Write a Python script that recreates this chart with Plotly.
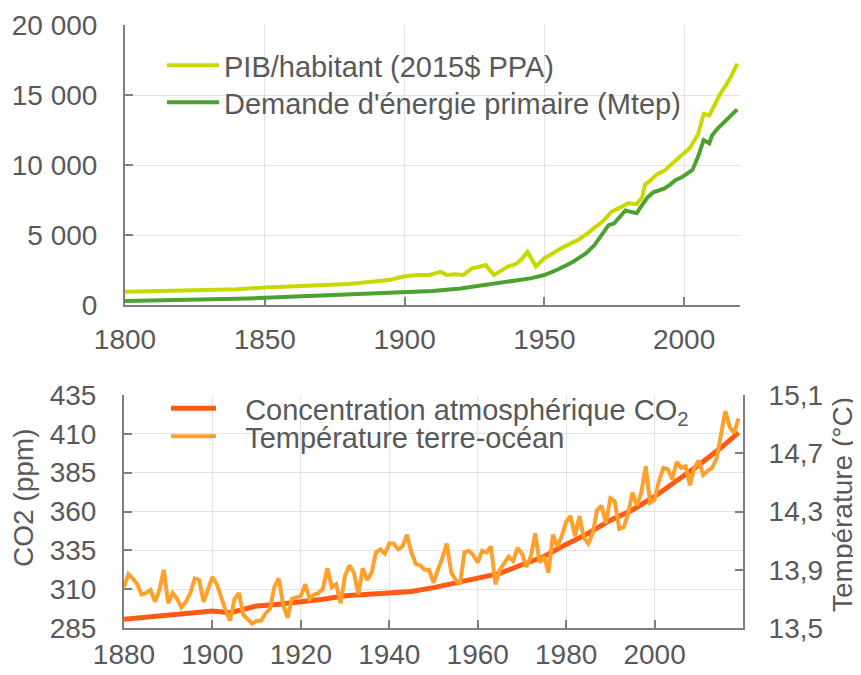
import plotly.graph_objects as go

# --- top panel: GDP per capita and primary energy demand ---
pib_years = [1800, 1810, 1820, 1830, 1840, 1850, 1860, 1870, 1880, 1890, 1895,
             1900, 1905, 1909, 1913, 1915, 1918, 1921, 1924, 1927, 1929, 1932,
             1935, 1937, 1940, 1942, 1944, 1947, 1950, 1953, 1956, 1959, 1962,
             1965, 1968, 1971, 1974, 1977, 1980, 1983, 1985, 1986, 1988, 1990,
             1993, 1996, 1999, 2002, 2005, 2007, 2009, 2011, 2013, 2015, 2017, 2019]
pib_values = [950, 980, 1010, 1060, 1120, 1250, 1320, 1400, 1500, 1700, 1800,
              2050, 2150, 2150, 2380, 2150, 2200, 2150, 2600, 2750, 2850, 2150,
              2500, 2750, 2950, 3300, 3800, 2750, 3330, 3700, 4050, 4350, 4650,
              5050, 5550, 6000, 6650, 6950, 7260, 7200, 7700, 8600, 8900, 9300,
              9600, 10150, 10700, 11200, 12200, 13650, 13550, 14400, 15100, 15700, 16400, 17250]

energy_years = [1800, 1810, 1820, 1830, 1840, 1850, 1860, 1870, 1880, 1890, 1900,
                1910, 1920, 1930, 1940, 1945, 1950, 1955, 1960, 1965, 1968, 1971,
                1973, 1975, 1977, 1979, 1981, 1983, 1985, 1987, 1989, 1991, 1993,
                1995, 1997, 1999, 2001, 2003, 2005, 2007, 2009, 2010, 2012, 2014,
                2016, 2018, 2019]
energy_values = [290, 310, 340, 380, 440, 510, 580, 650, 740, 830, 920,
                 1000, 1180, 1450, 1730, 1900, 2140, 2550, 3050, 3700, 4300, 5100,
                 5700, 5830, 6300, 6750, 6650, 6550, 7150, 7700, 8050, 8200, 8330,
                 8600, 8930, 9100, 9400, 9650, 10600, 11780, 11550, 12100, 12600, 13000,
                 13330, 13700, 13970]

# --- bottom panel: CO2 concentration (ppm) and land-ocean temperature (°C) ---
co2_years = [1880, 1885, 1890, 1895, 1900, 1904, 1910, 1915, 1920, 1925, 1930,
             1935, 1940, 1945, 1950, 1955, 1960, 1965, 1970, 1975, 1980, 1985,
             1990, 1995, 2000, 2005, 2010, 2015, 2019]
co2_values = [290.7, 292.0, 293.4, 294.6, 296.0, 294.8, 299.2, 300.3, 301.5, 303.5, 305.8,
              306.8, 307.3, 308.5, 311.0, 313.8, 317.0, 320.2, 325.7, 331.0, 338.8, 346.0,
              354.4, 361.0, 369.7, 379.8, 389.9, 401.0, 410.8]

temp_years = list(range(1880, 2020))
temp_values = [
    13.78, 13.87, 13.84, 13.80, 13.73, 13.74, 13.76, 13.68, 13.76, 13.90,  # 1880s
    13.67, 13.74, 13.70, 13.64, 13.68, 13.74, 13.84, 13.83, 13.68, 13.77,  # 1890s
    13.85, 13.80, 13.70, 13.62, 13.55, 13.70, 13.74, 13.59, 13.56, 13.53,  # 1900s
    13.55, 13.55, 13.60, 13.63, 13.78, 13.84, 13.66, 13.57, 13.70, 13.71,  # 1910s
    13.72, 13.80, 13.70, 13.73, 13.74, 13.77, 13.91, 13.78, 13.80, 13.67,  # 1920s
    13.86, 13.93, 13.88, 13.73, 13.91, 13.83, 13.88, 14.02, 14.04, 14.01,  # 1930s
    14.08, 14.08, 14.04, 14.06, 14.14, 14.02, 13.94, 13.93, 13.90, 13.90,  # 1940s
    13.81, 13.90, 13.98, 14.08, 13.88, 13.83, 13.80, 14.02, 14.03, 14.00,  # 1950s
    13.95, 14.03, 14.02, 14.06, 13.80, 13.90, 13.95, 13.99, 13.96, 14.05,  # 1960s
    14.01, 13.92, 13.99, 14.15, 13.95, 13.99, 13.88, 14.14, 14.06, 14.13,  # 1970s
    14.23, 14.27, 14.13, 14.27, 14.12, 14.08, 14.15, 14.31, 14.34, 14.22,  # 1980s
    14.39, 14.37, 14.18, 14.19, 14.28, 14.43, 14.34, 14.43, 14.61, 14.36,  # 1990s
    14.38, 14.51, 14.60, 14.59, 14.52, 14.64, 14.60, 14.61, 14.48, 14.60,  # 2000s
    14.65, 14.55, 14.58, 14.60, 14.66, 14.82, 14.99, 14.88, 14.84, 14.94,  # 2010s
]

top_x_ticks = [1800, 1850, 1900, 1950, 2000]
top_y_ticks = [0, 5000, 10000, 15000, 20000]
bot_x_ticks = [1880, 1900, 1920, 1940, 1960, 1980, 2000]
co2_ticks = [285, 310, 335, 360, 385, 410, 435]
temp_ticks = [13.5, 13.9, 14.3, 14.7, 15.1]

TEXT = "#595959"
AXIS = "#7f7f7f"
GRID = "#e3e3e3"
FONT = "Liberation Sans, Arial, sans-serif"
NBSP = "\u00a0"

# the page body has an 8px default margin, so the figure is 8px smaller
OFF = 8
W, H = 861 - OFF, 675 - OFF


def px_x(p):
    return (p - OFF) / W


def px_y(p):
    return 1 - (p - OFF) / H


fig = go.Figure()

fig.add_trace(go.Scatter(x=pib_years, y=pib_values, mode="lines",
                         line=dict(color="#c8d900", width=4),
                         name="PIB/habitant (2015$ PPA)", xaxis="x", yaxis="y",
                         legend="legend"))
fig.add_trace(go.Scatter(x=energy_years, y=energy_values, mode="lines",
                         line=dict(color="#4ca22e", width=4),
                         name="Demande d'énergie primaire (Mtep)", xaxis="x", yaxis="y",
                         legend="legend2"))
fig.add_trace(go.Scatter(x=co2_years, y=co2_values, mode="lines",
                         line=dict(color="#ff5a14", width=5),
                         name=NBSP * 3 + "Concentration atmosphérique CO<sub>2</sub>",
                         xaxis="x2", yaxis="y2", legend="legend3"))
fig.add_trace(go.Scatter(x=temp_years, y=temp_values, mode="lines",
                         line=dict(color="#ffa02d", width=4),
                         name=NBSP * 3 + "Température terre-océan",
                         xaxis="x2", yaxis="y3", legend="legend4"))

tick_font = dict(family=FONT, size=28, color=TEXT)
common = dict(showline=True, linecolor=AXIS, linewidth=2, ticks="inside",
              ticklen=8, tickcolor=AXIS, tickwidth=2,
              zeroline=False, tickfont=tick_font, automargin=False)
grid = dict(gridcolor=GRID, gridwidth=1)


def legend_box(left, row, width):
    return dict(x=px_x(left), y=px_y(row - 27), xanchor="left", yanchor="top",
                bgcolor="rgba(0,0,0,0)", font=dict(family=FONT, size=29, color=TEXT),
                itemwidth=width)


fig.update_layout(
    width=W, height=H,
    margin=dict(l=0, r=0, t=0, b=0),
    paper_bgcolor="white", plot_bgcolor="white",
    separators=", ",
    showlegend=True,
    font=dict(family=FONT, size=28, color=TEXT),
    xaxis=dict(domain=[px_x(125), px_x(740)], range=[1800, 2020], tickvals=top_x_ticks,
               anchor="y", ticklabelstandoff=8, **common, **grid),
    yaxis=dict(domain=[px_y(305), px_y(25)], range=[0, 20000], tickvals=top_y_ticks,
               tickformat=",d", anchor="x", ticklabelstandoff=20, **common, **grid),
    xaxis2=dict(domain=[px_x(124), px_x(743)], range=[1880, 2020], tickvals=bot_x_ticks,
                anchor="y2", ticklabelstandoff=0, **common, **grid),
    yaxis2=dict(domain=[px_y(628), px_y(395)], range=[285, 435], tickvals=co2_ticks,
                anchor="x2", ticklabelstandoff=20, **common, **grid),
    yaxis3=dict(domain=[px_y(628), px_y(395)], range=[13.5, 15.1], tickvals=temp_ticks,
                tickformat=".1f", overlaying="y2", side="right", anchor="x2",
                showgrid=False, ticklabelstandoff=18, **common),
    legend=legend_box(162, 67, 52),
    legend2=legend_box(162, 104, 52),
    legend3=legend_box(166, 410, 45),
    legend4=legend_box(166, 438, 45),
    annotations=[
        dict(text="CO2 (ppm)", x=px_x(23), y=px_y(498), xref="paper", yref="paper",
             xanchor="center", yanchor="middle", textangle=-90, showarrow=False,
             font=dict(family=FONT, size=28, color=TEXT)),
        dict(text="Température (°C)", x=px_x(842), y=px_y(505), xref="paper", yref="paper",
             xanchor="center", yanchor="middle", textangle=-90, showarrow=False,
             font=dict(family=FONT, size=28, color=TEXT)),
    ],
)

fig.write_html("out.html")
